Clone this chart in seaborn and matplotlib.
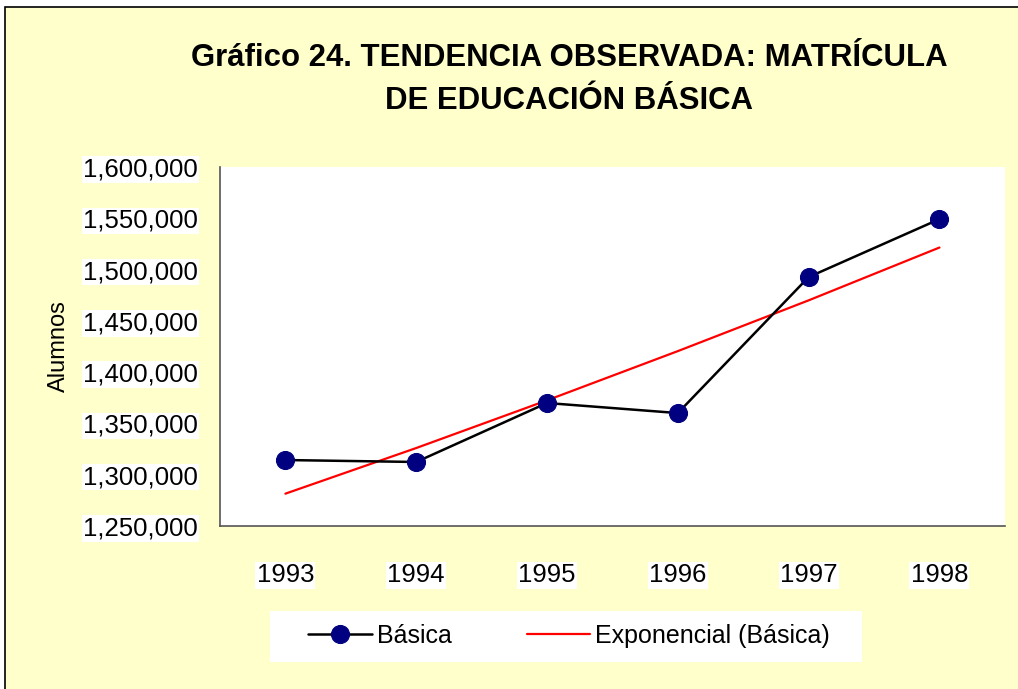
import numpy as np
import pandas as pd
import matplotlib
matplotlib.use("Agg")
import matplotlib.pyplot as plt
import matplotlib.ticker as mticker
from matplotlib.patches import Rectangle
import seaborn as sns

# datos
years = [1993, 1994, 1995, 1996, 1997, 1998]
basica = [1314300, 1312400, 1369900, 1360100, 1492700, 1549200]
tendencia = [1281500, 1326000, 1372500, 1420500, 1470000, 1521500]
y_ticks = [1250000, 1300000, 1350000, 1400000, 1450000, 1500000, 1550000, 1600000]

df = pd.DataFrame({"Año": years, "Básica": basica, "Exponencial (Básica)": tendencia})

sns.set_style("white")
plt.rcParams['font.family'] = ['Liberation Sans', 'DejaVu Sans']
plt.rcParams['text.color'] = 'black'
plt.rcParams['xtick.color'] = 'black'
plt.rcParams['ytick.color'] = 'black'
plt.rcParams['axes.labelcolor'] = 'black'

W, H = 1018, 689
fig = plt.figure(figsize=(W / 100, H / 100), dpi=100)
fig.patch.set_facecolor('white')
# fondo amarillo con borde
fig.patches.append(Rectangle((5 / W, -0.01), 1.02, 1 - 7 / H + 0.01,
                             transform=fig.transFigure, facecolor='#FFFFCC',
                             edgecolor='black', linewidth=1.2, zorder=-10))
# caja blanca de la leyenda
fig.patches.append(Rectangle((270 / W, 1 - 662 / H), 592 / W, 51 / H,
                             transform=fig.transFigure, facecolor='white',
                             edgecolor='none', zorder=-5))

ax = fig.add_axes([0.2161, 0.2366, 0.7710, 0.5210])
ax.set_facecolor('white')

sns.lineplot(data=df, x="Año", y="Exponencial (Básica)", ax=ax, color='#FF0000',
             linewidth=1.6, label="Exponencial (Básica)", zorder=2)
sns.lineplot(data=df, x="Año", y="Básica", ax=ax, color='black', linewidth=1.8,
             marker='o', markersize=13, markerfacecolor='#000080',
             markeredgecolor='#000080', label="Básica", zorder=3)

ax.set_xlim(1992.5, 1998.5)
ax.set_ylim(1250000, 1600000)
ax.set_yticks(y_ticks)
ax.yaxis.set_major_formatter(mticker.FuncFormatter(lambda v, p: f'{int(v):,}'))
ax.set_xticks(years)
ax.set_xticklabels([str(y) for y in years])
ax.set_xticks([1993.5, 1994.5, 1995.5, 1996.5, 1997.5], minor=True)
ax.tick_params(axis='x', which='major', length=0, pad=27, labelsize=18.5)
ax.tick_params(axis='x', which='minor', length=7, width=1, color='#444444', direction='out')
ax.tick_params(axis='y', length=7, width=1, color='#444444', direction='out', labelsize=18.5, pad=9)
for lab in ax.get_yticklabels() + ax.get_xticklabels():
    lab.set_bbox(dict(facecolor='white', edgecolor='none', pad=1))

for s in ['top', 'right']:
    ax.spines[s].set_visible(False)
for s in ['left', 'bottom']:
    ax.spines[s].set_color('#555555')
    ax.spines[s].set_linewidth(1.2)

ax.set_xlabel('')
ax.set_ylabel('Alumnos', fontsize=17, labelpad=9)

fig.text(0.559, 0.885, 'Gráfico 24. TENDENCIA OBSERVADA: MATRÍCULA\nDE EDUCACIÓN BÁSICA',
         ha='center', va='center', fontsize=22.4, fontweight='bold', linespacing=1.55)

handles, labels = ax.get_legend_handles_labels()
ax.get_legend().remove()
order = [labels.index("Básica"), labels.index("Exponencial (Básica)")]
leg = fig.legend([handles[i] for i in order], [labels[i] for i in order],
                 loc='center', bbox_to_anchor=(0.559, 0.077), ncol=2,
                 fontsize=18, frameon=False, handlelength=2.55,
                 columnspacing=3.0, handletextpad=0.2, borderpad=0.5)

fig.savefig('out.png', dpi=100, facecolor=fig.get_facecolor())
